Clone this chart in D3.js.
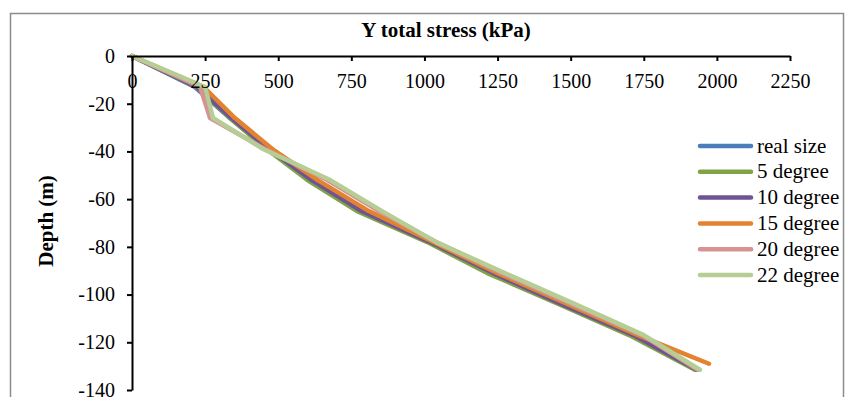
<!DOCTYPE html>
<html>
<head>
<meta charset="utf-8">
<script src="https://d3js.org/d3.v7.min.js"></script>
<style>
  body { margin: 0; background: #fff; }
  svg text { font-family: "Liberation Serif", "DejaVu Serif", serif; }
</style>
</head>
<body>
<svg width="854" height="397"></svg>
<script>
// depths of the sampled points (m), shared by the series
var depths = [0, -13, -26, -39, -52, -65, -78, -91, -104, -117, -131.5];
// last point depth for each series (orange stops a bit higher)
var endDepth = [-131.5, -131.5, -131.5, -129, -131.5, -131.5];

// Y total stress (kPa) per series
var realSize = [0, 215, 335, 465, 611, 781, 1020, 1240, 1475, 1715, 1930];
var deg5     = [0, 220, 335, 460, 600, 770, 1010, 1215, 1460, 1700, 1925];
var deg10    = [0, 222, 340, 468, 615, 785, 1020, 1235, 1470, 1715, 1932];
var deg15    = [0, 245, 352, 480, 635, 810, 1030, 1250, 1490, 1730, 1973];
var deg20    = [0, 233, 267, 455, 668, 845, 1040, 1265, 1505, 1745, 1935];
var deg22    = [0, 250, 277, 448, 678, 855, 1040, 1275, 1515, 1750, 1942];

var seriesNames = ["real size", "5 degree", "10 degree", "15 degree", "20 degree", "22 degree"];
var seriesValues = [realSize, deg5, deg10, deg15, deg20, deg22];
var colors = ["#4A7EBB", "#7FA345", "#6E5494", "#E3822F", "#D59391", "#B6CE95"];

var xTicks = [0, 250, 500, 750, 1000, 1250, 1500, 1750, 2000, 2250];
var yTicks = [0, -20, -40, -60, -80, -100, -120, -140];

var svg = d3.select("svg");

// outer chart border
svg.append("rect")
    .attr("x", 10.5).attr("y", 13.5)
    .attr("width", 833).attr("height", 420)
    .attr("fill", "none")
    .attr("stroke", "#8c8c8c")
    .attr("stroke-width", 1.5);

var x = d3.scaleLinear().domain([0, 2250]).range([132, 790]);
var y = d3.scaleLinear().domain([0, -140]).range([56, 390]);

// lines
var line = d3.line()
    .x(function (d) { return x(d[0]); })
    .y(function (d) { return y(d[1]); });

seriesValues.forEach(function (vals, i) {
  var pts = vals.map(function (v, j) {
    var dep = (j == vals.length - 1) ? endDepth[i] : depths[j];
    return [v, dep];
  });
  svg.append("path")
      .attr("d", line(pts))
      .attr("fill", "none")
      .attr("stroke", colors[i])
      .attr("stroke-width", 4.5)
      .attr("stroke-linejoin", "round")
      .attr("stroke-linecap", "round");
});

// plain labels, hyphen minus like the original
var plain = function (d) { return String(d); };

// x axis on top (at depth 0), labels below
var xAxis = svg.append("g")
    .attr("transform", "translate(0," + y(0) + ")")
    .call(d3.axisBottom(x).tickValues(xTicks).tickFormat(plain)
      .tickSize(5).tickSizeOuter(0).tickPadding(13));

// y axis
var yAxis = svg.append("g")
    .attr("transform", "translate(" + x(0) + ",0)")
    .call(d3.axisLeft(y).tickValues(yTicks).tickFormat(plain)
      .tickSize(5).tickSizeOuter(0).tickPadding(12));

[xAxis, yAxis].forEach(function (g) {
  g.attr("font-family", null).attr("font-size", null);
  g.select(".domain").attr("stroke", "#000").attr("stroke-width", 2);
  g.selectAll(".tick line").attr("stroke", "#000").attr("stroke-width", 2);
  g.selectAll(".tick text")
      .attr("fill", "#000")
      .style("font-size", "20px");
});

// titles
svg.append("text")
    .attr("x", 446).attr("y", 37)
    .attr("text-anchor", "middle")
    .style("font-size", "21px").style("font-weight", "bold")
    .text("Y total stress (kPa)");

svg.append("text")
    .attr("transform", "translate(53,221) rotate(-90)")
    .attr("text-anchor", "middle")
    .style("font-size", "21px").style("font-weight", "bold")
    .text("Depth (m)");

// legend
var legend = svg.append("g").attr("transform", "translate(698,146)");
seriesNames.forEach(function (name, i) {
  var row = legend.append("g").attr("transform", "translate(0," + (i * 25.8) + ")");
  row.append("line")
      .attr("x1", 2).attr("x2", 53)
      .attr("stroke", colors[i])
      .attr("stroke-width", 4.5)
      .attr("stroke-linecap", "round");
  row.append("text")
      .attr("x", 59).attr("y", 6.5)
      .style("font-size", "21px")
      .text(name);
});
</script>
</body>
</html>
